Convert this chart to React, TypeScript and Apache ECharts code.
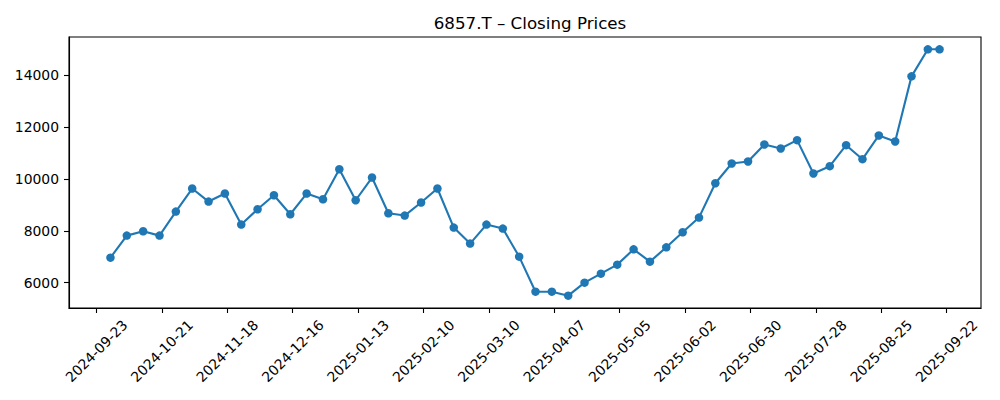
import * as echarts from "echarts";
import React, { useEffect, useRef } from "react";

const DAY = 24 * 3600 * 1000;

// weekly closes, first week ending 2024-09-29, last point 2025-09-19
const firstWeek = Date.UTC(2024, 8, 29);
const lastDate = Date.UTC(2025, 8, 19);

const closes = [
  6966, 7816, 7983, 7816, 8744, 9633, 9130, 9440, 8242, 8833,
  9374, 8640, 9440, 9219, 10379, 9181, 10058, 8678, 8589, 9092,
  9633, 8126, 7507, 8242, 8087, 7005, 5652, 5652, 5498, 6000,
  6348, 6696, 7287, 6812, 7364, 7944, 8512, 9838, 10599, 10676,
  11333, 11179, 11500, 10213, 10495, 11306, 10765, 11681, 11449, 13961,
  15005, 15005,
];

const dates = closes.map((_, i) =>
  i === closes.length - 1 ? lastDate : firstWeek + i * 7 * DAY
);

const xTickLabels = [
  "2024-09-23", "2024-10-21", "2024-11-18", "2024-12-16", "2025-01-13",
  "2025-02-10", "2025-03-10", "2025-04-07", "2025-05-05", "2025-06-02",
  "2025-06-30", "2025-07-28", "2025-08-25", "2025-09-22",
];
const yTicks = [6000, 8000, 10000, 12000, 14000];

const toUTC = (s: string) => {
  const [y, m, d] = s.split("-").map(Number);
  return Date.UTC(y, m - 1, d);
};

const fmt = (v: number) => {
  const d = new Date(v);
  const p = (n: number) => String(n).padStart(2, "0");
  return `${d.getUTCFullYear()}-${p(d.getUTCMonth() + 1)}-${p(d.getUTCDate())}`;
};

const App: React.FC = () => {
  const chartRef = useRef<HTMLDivElement | null>(null);

  useEffect(() => {
    document.body.style.margin = "0";
    if (!chartRef.current) return;
    const chart = echarts.init(chartRef.current, undefined, { renderer: "svg" });

    const xSpan = dates[dates.length - 1] - dates[0];
    const yMin = Math.min(...closes);
    const yMax = Math.max(...closes);
    const ySpan = yMax - yMin;
    const font = "DejaVu Sans";
    const xTicks = xTickLabels.map(toUTC);

    const option: echarts.EChartsOption = {
      animation: false,
      backgroundColor: "#ffffff",
      title: {
        text: "6857.T \u2013 Closing Prices",
        left: 525,
        top: 9,
        textAlign: "center",
        textStyle: {
          fontFamily: font,
          fontSize: 16.7,
          fontWeight: "normal",
          color: "#000",
        },
      },
      grid: {
        left: 69,
        right: 19,
        top: 37,
        bottom: 92,
        show: true,
        borderColor: "#000",
        borderWidth: 1.1,
        containLabel: false,
      },
      xAxis: {
        type: "value",
        min: dates[0] - xSpan * 0.05,
        max: dates[dates.length - 1] + xSpan * 0.05,
        splitLine: { show: false },
        axisLine: { show: true, lineStyle: { color: "#000", width: 1.1 } },
        axisTick: {
          show: true,
          length: 5,
          lineStyle: { color: "#000", width: 1.1 },
          customValues: xTicks,
        },
        axisLabel: {
          customValues: xTicks,
          formatter: (v: number) => fmt(v),
          rotate: 45,
          align: "center",
          verticalAlign: "middle",
          margin: 43,
          fontFamily: font,
          fontSize: 13.9,
          color: "#000",
        },
      },
      yAxis: {
        type: "value",
        min: yMin - ySpan * 0.05,
        max: yMax + ySpan * 0.05,
        splitLine: { show: false },
        axisLine: { show: true, lineStyle: { color: "#000", width: 1.1 } },
        axisTick: {
          show: true,
          length: 5,
          lineStyle: { color: "#000", width: 1.1 },
          customValues: yTicks,
        },
        axisLabel: {
          customValues: yTicks,
          formatter: (v: number) => String(v),
          margin: 10,
          fontFamily: font,
          fontSize: 13.9,
          color: "#000",
        },
      },
      series: [
        {
          type: "line",
          data: dates.map((d, i) => [d, closes[i]]),
          symbol: "circle",
          symbolSize: 8.5,
          showAllSymbol: true,
          itemStyle: { color: "#1f77b4" },
          lineStyle: { color: "#1f77b4", width: 2.1 },
        },
      ],
    };

    chart.setOption(option);
    return () => chart.dispose();
  }, []);

  return <div ref={chartRef} style={{ width: "1000px", height: "400px" }} />;
};

export default App;
